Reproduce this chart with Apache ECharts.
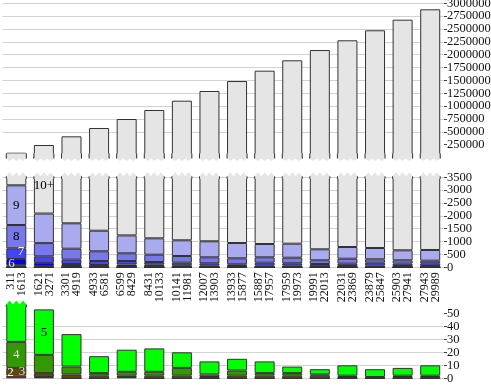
<!DOCTYPE html>
<html><head><meta charset="utf-8">
<script src="https://cdn.jsdelivr.net/npm/echarts@6/dist/echarts.min.js"></script>
<style>html,body{margin:0;padding:0;background:#fff}#c{width:491px;height:392px}</style>
</head><body><div id="c"></div>
<script>
// ---- data ----
const lowEnds  = [311,1621,3301,4933,6599,8431,10141,12007,13933,15887,17959,19991,22031,23879,25903,27943];
const highEnds = [1613,3271,4919,6581,8429,10133,11981,13903,15877,17957,19973,22013,23869,25847,27941,29989];
const totals = [93000,243000,412000,574000,749000,924000,1105000,1294000,1488000,1689000,1891000,2091000,2280000,2475000,2681000,2883000];
const c2 = [2,1,0,0,1,0,0,0,0,0,0,0,0,0,0,0];
const c3 = [6,3,3,2,1,2,2,1,2,2,2,2,1,0,1,1];
const c4 = [20,14,6,2,3,3,6,2,4,2,2,1,1,1,1,1];
const c5 = [50,35,25,13,17,18,12,10,9,9,5,4,8,6,6,8];
const c6 = [245,117,94,72,88,78,58,49,35,49,53,32,40,55,42,40];
const c7 = [416,257,168,156,135,105,101,94,67,117,94,89,90,117,90,106];
const c8 = [906,513,427,377,299,284,260,233,233,210,217,144,194,132,132,101];
const c9 = [1543,1150,988,801,696,637,611,622,595,517,545,428,455,439,389,416];
const seriesNames = ['2','3','4','5','6','7','8','9','10+'];
const topTicks = [250000,500000,750000,1000000,1250000,1500000,1750000,2000000,2250000,2500000,2750000,3000000];
const midTicks = [0,500,1000,1500,2000,2500,3000,3500];
const lowTicks = [0,10,20,30,40,50];

// ---- derived ----
const categories = lowEnds.map((a, i) => a + '\n' + highEnds[i]);
const c10 = totals.map((t, i) => t - (c2[i]+c3[i]+c4[i]+c5[i]+c6[i]+c7[i]+c8[i]+c9[i]));
const counts = [c2,c3,c4,c5,c6,c7,c8,c9,c10];
const colors = ['#990000','#5e4a00','#339900','#00ff00','#0000ee','#4444ff','#7777ee','#aaaaee','#e5e5e5'];
const sumLow = c2.map((v, i) => v + c3[i] + c4[i] + c5[i]);

const FONT = "'Liberation Serif', 'DejaVu Serif', serif";
const L = 2.5, W = 441.5;
const grids = [
  {left: L, width: W, top: 3.3, height: 154.2, outerBoundsMode: 'none', containLabel: false},
  {left: L, width: W, top: 177.3, height: 90, outerBoundsMode: 'none', containLabel: false},
  {left: L, width: W, top: 305.5, height: 72.8, outerBoundsMode: 'none', containLabel: false}
];
const yMax = [3000000, 3500, 56];
const yInt = [250000, 500, 10];
const tickSets = [topTicks, midTicks, lowTicks];

const labelSpec = [
  {},
  {'10+': {idx: 1, position: 'insideTop', color: '#000', offset: [0, 0], distance: 2},
   '9': {idx: 0, position: 'inside', color: '#000'},
   '8': {idx: 0, position: 'inside', color: '#000'},
   '7': {idx: 0, position: 'insideRight', color: '#fff', distance: 2, offset: [0, -2]},
   '6': {idx: 0, position: 'insideLeft', color: '#e8e8ff', distance: 2, offset: [0, 1]}},
  {'5': {idx: 1, position: 'inside', color: '#000'},
   '4': {idx: 0, position: 'inside', color: '#e0e0e0'},
   '3': {idx: 0, position: 'insideRight', color: '#e0e0e0', distance: 1},
   '2': {idx: 0, position: 'insideLeft', color: '#fff', distance: 1, offset: [0, -4]}}
];

const series = [];
for (let g = 0; g < 3; g++) {
  const nSer = g === 2 ? 4 : 9;
  for (let k = 0; k < nSer; k++) {
    const name = seriesNames[k];
    const spec = labelSpec[g][name];
    const data = counts[k].map((v, i) => {
      if (spec && spec.idx === i) {
        return {value: v, label: {show: true, position: spec.position, color: spec.color,
          distance: spec.distance === undefined ? 5 : spec.distance,
          offset: spec.offset || [0, 0], formatter: name,
          fontFamily: FONT, fontSize: 13}};
      }
      return v;
    });
    series.push({
      type: 'bar', name: name, xAxisIndex: g, yAxisIndex: g, stack: 's' + g,
      data: data, barWidth: 20, silent: true, z: 2,
      itemStyle: {color: colors[k], borderColor: '#333', borderWidth: 1}
    });
  }
}

function zigzag(cut, dir, fill) {
  return function (params, api) {
    const i = api.value(0), v = api.value(1);
    if (v <= cut) return null;
    const p = api.coord([i, cut]);
    const w = 20, Lx = p[0] - w / 2, Rx = p[0] + w / 2, y = p[1];
    const base = dir > 0 ? y - 4 : y + 1.5;
    const valley = y + dir * 1, tip = y + dir * (dir > 0 ? 3.5 : 5);
    const pts = [[Lx, base], [Rx, base], [Rx, valley],
      [Rx - w / 6, tip], [Rx - w / 3, valley], [Rx - w / 2, tip],
      [Rx - 2 * w / 3, valley], [Rx - 5 * w / 6, tip], [Lx, valley]];
    return {type: 'group', children: [
      {type: 'polygon', shape: {points: pts}, style: {fill: fill, stroke: null}},
      {type: 'line', shape: {x1: Lx, y1: base, x2: Lx, y2: valley}, style: {stroke: '#333', lineWidth: 1}},
      {type: 'line', shape: {x1: Rx, y1: base, x2: Rx, y2: valley}, style: {stroke: '#333', lineWidth: 1}}
    ]};
  };
}
series.push({type: 'custom', xAxisIndex: 0, yAxisIndex: 0, silent: true, clip: false, z: 5,
  data: totals.map((t, i) => [i, t]), encode: {x: 0, y: 1}, renderItem: zigzag(0, 1, '#e5e5e5')});
series.push({type: 'custom', xAxisIndex: 1, yAxisIndex: 1, silent: true, clip: false, z: 5,
  data: totals.map((t, i) => [i, t]), encode: {x: 0, y: 1}, renderItem: zigzag(3500, -1, '#e5e5e5')});
series.push({type: 'custom', xAxisIndex: 2, yAxisIndex: 2, silent: true, clip: false, z: 5,
  data: sumLow.map((t, i) => [i, t]), encode: {x: 0, y: 1}, renderItem: zigzag(56, -1, '#00ff00')});

const xAxis = [0, 1, 2].map(g => ({
  type: 'category', gridIndex: g, data: categories,
  axisLine: {show: false}, axisTick: {show: false},
  axisLabel: g === 1 ? {show: true, interval: 0, rotate: 90, fontFamily: FONT, fontSize: 12,
    lineHeight: 11, color: '#111', margin: 5, hideOverlap: false} : {show: false}
}));
const yAxis = [0, 1, 2].map(g => ({
  type: 'value', gridIndex: g, position: 'right', min: 0, max: yMax[g], interval: yInt[g],
  axisLine: {show: false},
  axisTick: {show: true, length: 3, lineStyle: {color: '#444'}, customValues: tickSets[g]},
  axisLabel: {show: true, fontFamily: FONT, fontSize: 12.5, lineHeight: 12, color: '#111', margin: 3,
    formatter: v => String(v), customValues: tickSets[g], hideOverlap: false},
  splitLine: {show: true, lineStyle: {color: '#d2d2d2', width: 1},
    showMinLine: g !== 0, showMaxLine: g !== 2}
}));

const chart = echarts.init(document.getElementById('c'), null, {renderer: 'canvas'});
chart.setOption({
  animation: false, backgroundColor: '#fff',
  grid: grids, xAxis: xAxis, yAxis: yAxis, series: series
});
</script></body></html>
